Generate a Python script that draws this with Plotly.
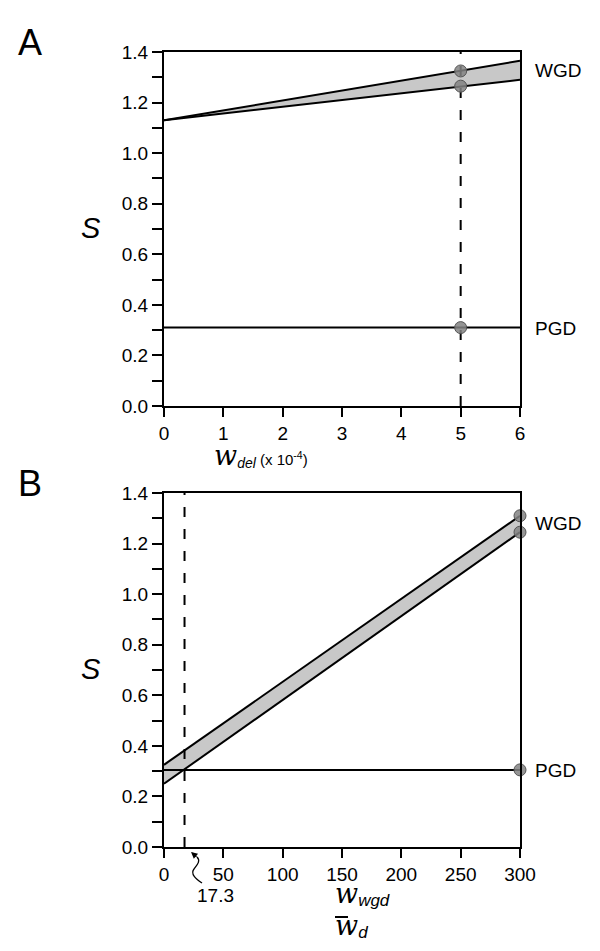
import plotly.graph_objects as go

# ---- Data: panel A ----
xa = [0, 6]
wgd_upper_a = [1.13, 1.365]
wgd_lower_a = [1.13, 1.29]
pgd_a = [0.31, 0.31]
mark_x_a = [5, 5, 5]
mark_y_a = [1.325, 1.265, 0.31]
dash_x_a = [5, 5]
dash_y = [0, 1.4]

# ---- Data: panel B ----
xb = [0, 300]
wgd_upper_b = [0.325, 1.31]
wgd_lower_b = [0.25, 1.245]
pgd_b = [0.305, 0.305]
mark_x_b = [300, 300, 300]
mark_y_b = [1.31, 1.245, 0.305]
dash_x_b = [17.3, 17.3]

xticks_a = [0, 1, 2, 3, 4, 5, 6]
xticks_b = [0, 50, 100, 150, 200, 250, 300]
yticks = [round(i * 0.1, 1) for i in range(15)]
yticklabels = [f"{v:.1f}" if i % 2 == 0 else "" for i, v in enumerate(yticks)]

FONT = "Liberation Sans, Arial, Helvetica, sans-serif"
OFF = 8  # page body margin
W, H = 600, 951
# plot area in screen pixels
SL, ST, SR, SB = 164, 52, 520, 847
PW = SR - SL
PH = SB - ST
L = SL - OFF
T = ST - OFF
R = W - L - PW
B = H - T - PH


def px(x):
    return (x - SL) / PW


def py(y):
    return (SB - y) / PH


fig = go.Figure()

fill_col = "#c8c8c8"
mk = dict(size=12, color="rgba(130,130,130,0.85)", line=dict(color="#555555", width=1))

for xs, up, lo, pg, mx, my, dx, xr, yr in [
    (xa, wgd_upper_a, wgd_lower_a, pgd_a, mark_x_a, mark_y_a, dash_x_a, "x", "y"),
    (xb, wgd_upper_b, wgd_lower_b, pgd_b, mark_x_b, mark_y_b, dash_x_b, "x2", "y2"),
]:
    fig.add_trace(go.Scatter(x=xs, y=lo, mode="lines", line=dict(color="black", width=2),
                             xaxis=xr, yaxis=yr, showlegend=False))
    fig.add_trace(go.Scatter(x=xs, y=up, mode="lines", line=dict(color="black", width=2),
                             fill="tonexty", fillcolor=fill_col,
                             xaxis=xr, yaxis=yr, showlegend=False))
    fig.add_trace(go.Scatter(x=xs, y=pg, mode="lines", line=dict(color="black", width=2),
                             xaxis=xr, yaxis=yr, showlegend=False))
    fig.add_trace(go.Scatter(x=dx, y=dash_y, mode="lines",
                             line=dict(color="black", width=2, dash="10px,12px"),
                             xaxis=xr, yaxis=yr, showlegend=False))
    fig.add_trace(go.Scatter(x=mx, y=my, mode="markers", marker=mk, cliponaxis=False,
                             xaxis=xr, yaxis=yr, showlegend=False))

ax_common = dict(showline=True, linewidth=2, linecolor="black", mirror=True,
                 ticks="outside", tickwidth=2, tickcolor="black",
                 showgrid=False, zeroline=False,
                 tickfont=dict(family=FONT, size=19, color="black"))

domA = [py(406), 1.0]
domB = [0.0, py(493)]

fig.update_layout(
    width=W, height=H,
    margin=dict(l=L, r=R, t=T, b=B),
    plot_bgcolor="white", paper_bgcolor="white",
    xaxis=dict(domain=[0, 1], range=[0, 6], tickvals=xticks_a, ticklen=9, anchor="y", **ax_common),
    yaxis=dict(domain=domA, range=[0, 1.4], tickvals=yticks, ticktext=yticklabels,
               ticklen=10, anchor="x", **ax_common),
    xaxis2=dict(domain=[0, 1], range=[0, 300], tickvals=xticks_b, ticklen=9, anchor="y2", **ax_common),
    yaxis2=dict(domain=domB, range=[0, 1.4], tickvals=yticks, ticktext=yticklabels,
                ticklen=10, anchor="x2", **ax_common),
)

ann = []


def text(x, y, t, size=18, xanchor="left", yanchor="middle", family=FONT):
    ann.append(dict(x=px(x), y=py(y), xref="paper", yref="paper", text=t, showarrow=False,
                    xanchor=xanchor, yanchor=yanchor,
                    font=dict(family=family, size=size, color="black")))


text(30, 42, "A", size=36, xanchor="center")
text(30, 483, "B", size=36, xanchor="center")
text(91, 228, "<i>S</i>", size=29, xanchor="center")
text(91, 669, "<i>S</i>", size=29, xanchor="center")
text(533, 70, "WGD", size=19)
text(533, 328, "PGD", size=19)
text(533, 523, "WGD", size=19)
text(533, 770, "PGD", size=19)

serif = "DejaVu Serif, Liberation Serif, serif"
W_BIG = f"<span style='font-family:{serif};font-size:27px'><i>w</i></span>"
text(212, 455,
     W_BIG + "<sub><span style='font-size:14px'><i>del</i></span></sub>"
     " (x 10<sup>-4</sup>)", size=15)
text(333, 894,
     W_BIG + "<sub><span style='font-size:17px'><i>wgd</i></span></sub>", size=16)
text(333, 926,
     W_BIG + "<sub><span style='font-size:17px'><i>d</i></span></sub>", size=16)
text(215, 895, "17.3", size=19, xanchor="center")

# arrowhead of the squiggle
ann.append(dict(x=px(191), y=py(852), xref="paper", yref="paper", text="",
                showarrow=True, ax=7, ay=6, arrowhead=2, arrowsize=1, arrowwidth=1.3,
                arrowcolor="black"))

fig.update_layout(annotations=ann)


def pt(x, y):
    return f"{px(x):.5f},{py(y):.5f}"


squiggle = (f"M {pt(197, 857)} C {pt(201, 861)} {pt(197, 865)} {pt(194, 869)} "
            f"C {pt(190, 874)} {pt(196, 879)} {pt(202, 883)}")
fig.add_shape(type="path", path=squiggle, xref="paper", yref="paper",
              line=dict(color="black", width=1.3))
# overbar on the denominator w
fig.add_shape(type="line", x0=px(335), x1=px(348), y0=py(917), y1=py(917),
              xref="paper", yref="paper", line=dict(color="black", width=2))

fig.write_html("out.html")
